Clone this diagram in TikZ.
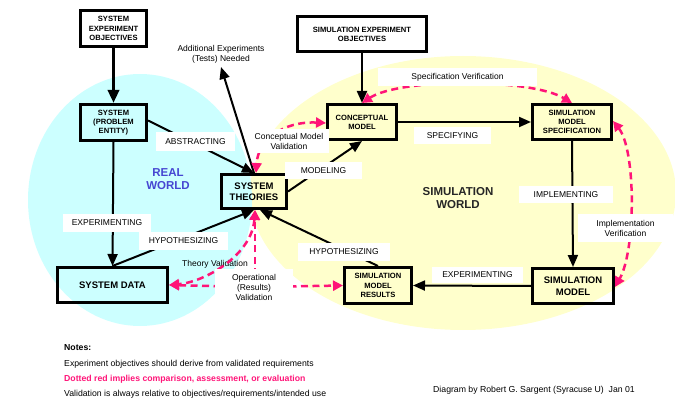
\documentclass[tikz,border=0pt]{standalone}
\usepackage{fontspec}
\setmainfont{Liberation Sans}
\usetikzlibrary{arrows.meta}
\definecolor{realbg}{RGB}{204,255,255}
\definecolor{simbg}{RGB}{255,255,204}
\definecolor{evalred}{RGB}{255,20,120}
\definecolor{worldblue}{RGB}{70,70,210}
\tikzset{
  box/.style={draw, line width=2.6pt, align=center, inner sep=0pt,
    font=\bfseries\fontsize{7.6}{9.2}\selectfont},
  bigbox/.style={box, font=\bfseries\fontsize{9.5}{11.5}\selectfont},
  lbl/.style={fill=white, inner sep=0pt, align=center,
    font=\fontsize{8.5}{10}\selectfont},
  note/.style={inner sep=0pt, anchor=base west, font=\fontsize{8.7}{10}\selectfont},
  boldnote/.style={note, font=\bfseries\fontsize{8.7}{10}\selectfont},
  flow/.style={draw, line width=2pt, -{Triangle[length=12pt,width=10pt]}},
  thickflow/.style={draw, line width=3.4pt, -{Triangle[length=13pt,width=11pt]}},
  evalarrow/.style={draw=evalred, line width=2.5pt, dash pattern=on 7pt off 4.5pt,
    {Triangle[length=10pt,width=10pt,fill=evalred]}-{Triangle[length=10pt,width=10pt,fill=evalred]}},
  evalone/.style={draw=evalred, line width=2.5pt, dash pattern=on 7pt off 4.5pt,
    -{Triangle[length=10pt,width=10pt,fill=evalred]}},
  world/.style={align=center, inner sep=0pt, font=\bfseries\fontsize{11.5}{13}\selectfont}
}
\begin{document}
\begin{tikzpicture}[x=1pt,y=-1pt]
\useasboundingbox (0,0) rectangle (675,398);

% the two worlds
\fill[simbg] (463,193) ellipse [x radius=213, y radius=137];
\fill[realbg] (140,200) ellipse [x radius=112, y radius=126];

\node[world, text=worldblue] (realw) at (168,179.5) {REAL\\WORLD};
\node[world, text=black!85] (simw) at (458,198.5) {SIMULATION\\WORLD};

% boxes
\node[box, minimum width=66.4pt, minimum height=36.4pt, fill=white] (sysobj) at (113.5,28.5) {SYSTEM\\EXPERIMENT\\OBJECTIVES};
\node[box, minimum width=66.4pt, minimum height=36.4pt] (system) at (113.5,122.5) {SYSTEM\\(PROBLEM\\ENTITY)};
\node[bigbox, minimum width=110.4pt, minimum height=35.4pt] (data) at (112.5,285) {SYSTEM DATA};
\node[bigbox, minimum width=65.4pt, minimum height=34.4pt] (theory) at (254,191.5) {SYSTEM\\THEORIES};
\node[box, minimum width=129.4pt, minimum height=35.4pt, fill=white] (simobj) at (362,34) {SIMULATION EXPERIMENT\\OBJECTIVES};
\node[box, minimum width=69.4pt, minimum height=35.4pt] (concept) at (362,122) {CONCEPTUAL\\MODEL};
\node[box, minimum width=79.4pt, minimum height=35.4pt] (spec) at (572,122) {SIMULATION\\MODEL\\SPECIFICATION};
\node[bigbox, minimum width=81.4pt, minimum height=35.4pt] (simmodel) at (573,286) {SIMULATION\\MODEL};
\node[box, minimum width=67.4pt, minimum height=36.4pt] (results) at (378,285.5) {SIMULATION\\MODEL\\RESULTS};

% free ends
\coordinate (more) at (221,67);
\coordinate (opjoin) at (255,287);

% black flows
\path[thickflow] (sysobj.south) -- (system.north);
\path[flow] (system.east) ++(0,-2) -- (theory.north);
\path[flow] (system.south) -- (data.north);
\path[flow] (data.north) -- (theory.south);
\path[flow] (theory.north) -- (more);
\path[flow] (theory.east) -- (concept.south);
\path[flow] (simobj.south) -- (concept.north);
\path[flow] (concept.east) -- (spec.west);
\path[flow] (spec.south) -- (simmodel.north);
\path[flow] (simmodel.west) -- (results.east);
\path[flow] (results.north) -- ([xshift=6pt]theory.south);

% text without background
\node[lbl, fill=none] (addexp) at (221,54) {Additional Experiments\\(Tests) Needed};
\node[lbl, fill=none] (thval) at (215,264) {Theory Validation};

% comparisons and evaluations
\path[evalarrow] (concept.north) .. controls (400,78) and (530,78) .. (spec.north);
\path[evalarrow] ([yshift=1pt]spec.east) .. controls (636,150) and (636,250) .. ([yshift=-1pt]simmodel.east);
\path[evalarrow] ([yshift=-1pt]concept.west) .. controls (283,121) and (258,140) .. ([xshift=2pt]theory.north);
\path[evalarrow] ([xshift=1pt]theory.south) .. controls (252,255) and (205,282) .. (data.east);
\path[evalone] (opjoin) -- ([xshift=1pt]theory.south);
\path[evalone] (opjoin) -- (data.east);
\path[evalone] (opjoin) -- (results.west);

% labels on the connectors
\node[lbl, minimum width=79pt, minimum height=19pt] (abs) at (195.5,141.5) {ABSTRACTING};
\node[lbl, minimum width=80pt, minimum height=24pt] (cmv) at (289,141) {Conceptual Model\\Validation};
\node[lbl, minimum width=77pt, minimum height=17pt] (modl) at (323.5,170.5) {MODELING};
\node[lbl, minimum width=77pt, minimum height=17pt] (specg) at (452.5,135.5) {SPECIFYING};
\node[lbl, minimum width=159pt, minimum height=18pt] (specv) at (457.5,77) {Specification Verification};
\node[lbl, minimum width=94pt, minimum height=17pt] (impl) at (566,194.5) {IMPLEMENTING};
\node[lbl, minimum width=95pt, minimum height=28pt] (implv) at (625.5,228) {Implementation\\Verification};
\node[lbl, minimum width=91pt, minimum height=16pt] (expsim) at (477.5,275) {EXPERIMENTING};
\node[lbl, minimum width=92pt, minimum height=18pt] (hypsim) at (344,252) {HYPOTHESIZING};
\node[lbl, minimum width=88pt, minimum height=18pt] (expreal) at (107,223) {EXPERIMENTING};
\node[lbl, minimum width=89pt, minimum height=18pt] (hypreal) at (183.5,241) {HYPOTHESIZING};
\node[lbl, minimum width=78pt, minimum height=37pt] (opval) at (254,287.5) {Operational\\(Results)\\Validation};

% notes
\node[boldnote] (n0) at (64,350) {Notes:};
\node[note] (n1) at (64,366) {Experiment objectives should derive from validated requirements};
\node[boldnote, text=evalred] (n2) at (64,381) {Dotted red implies comparison, assessment, or evaluation};
\node[note] (n3) at (64,396) {Validation is always relative to objectives/requirements/intended use};
\node[note] (credit) at (433,392) {Diagram by Robert G. Sargent (Syracuse U)\ \ Jan 01};
\end{tikzpicture}
\end{document}
